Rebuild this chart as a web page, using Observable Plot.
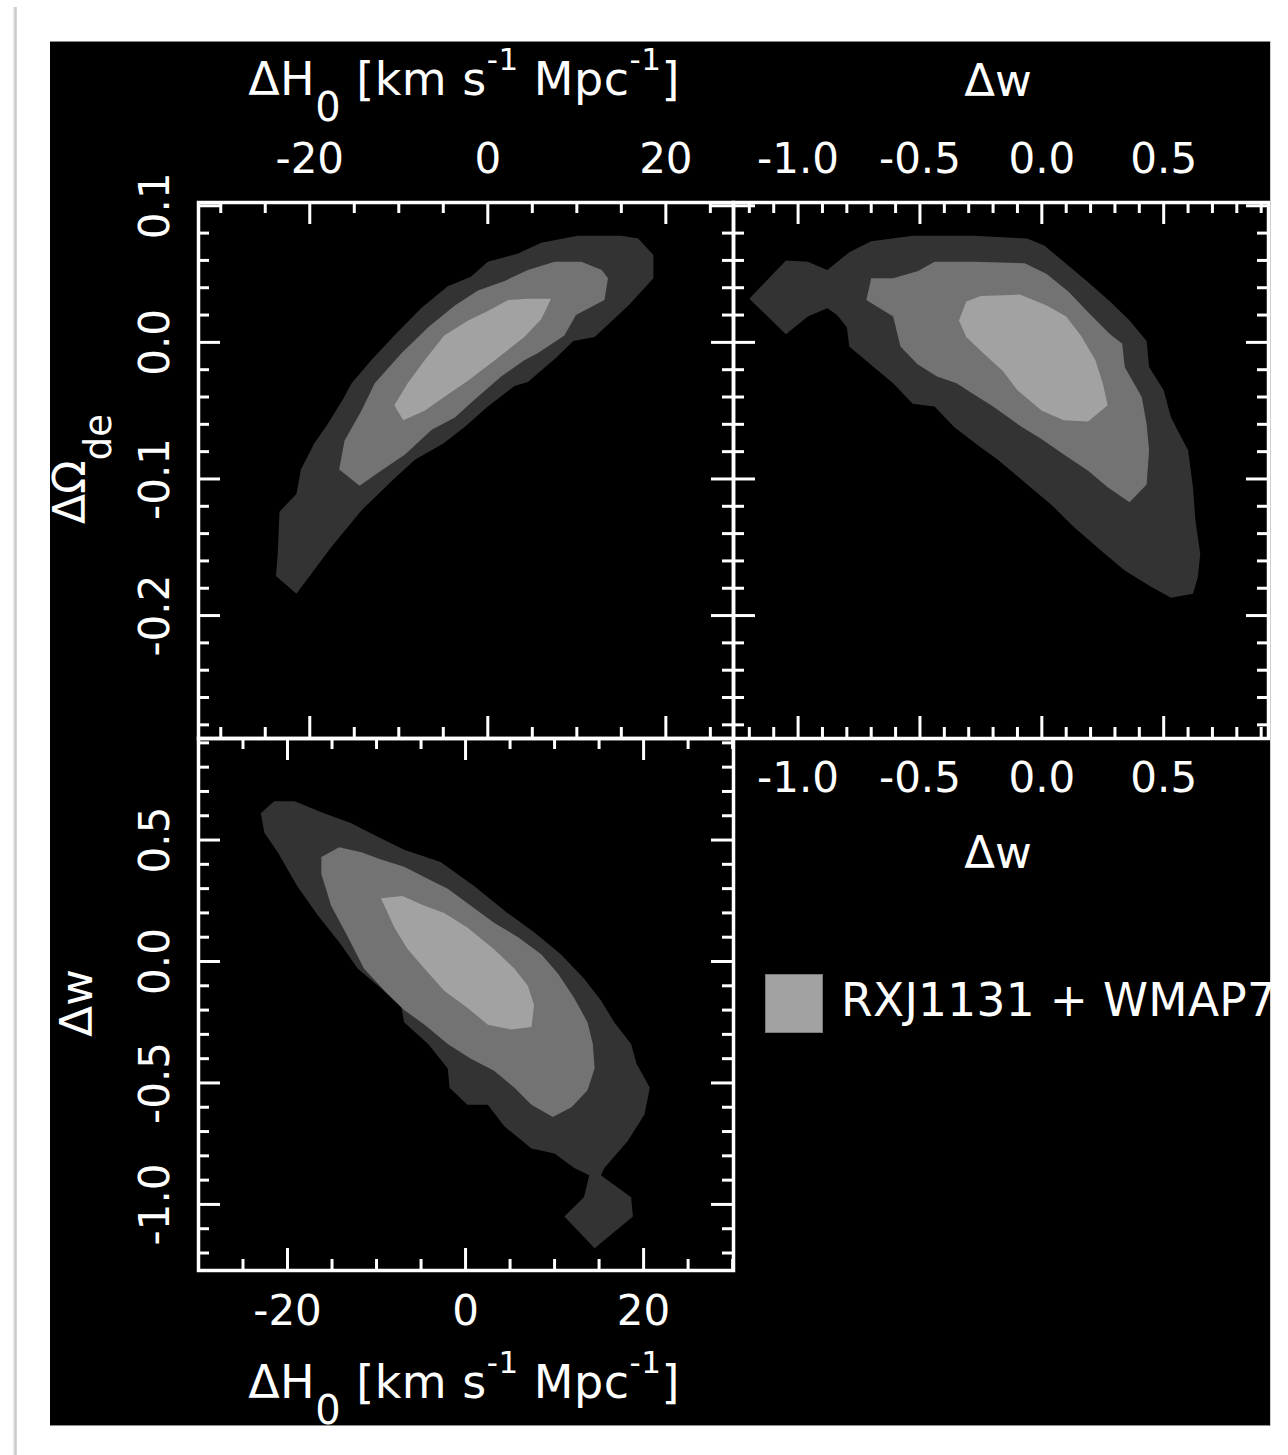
<!DOCTYPE html>
<html><head><meta charset="utf-8">
<script src="https://cdn.jsdelivr.net/npm/d3@7"></script>
<script src="https://cdn.jsdelivr.net/npm/@observablehq/plot@0.6"></script>
<style>
html,body{margin:0;padding:0;background:#fff;}
#page{position:relative;width:1288px;height:1455px;overflow:hidden;background:#fff;font-family:"DejaVu Sans",sans-serif;color:#fff;}
#shadow{position:absolute;left:13px;top:7px;width:4px;height:1448px;background:linear-gradient(to right,#f2f2f2,#c4c4c4 70%,#e4e4e4);}
#panel{position:absolute;left:50px;top:41px;width:1220px;height:1385px;background:#000;}
.edge{position:absolute;background:#8a8a8a;}
.box{position:absolute;}
.t{position:absolute;white-space:nowrap;line-height:100px;transform-origin:0 0;}
.sub,.sup{position:relative;line-height:1;}
#legend-swatch{position:absolute;box-sizing:border-box;border:1px solid #7a7a7a;background:#a2a2a2;}
#legend-text{position:absolute;white-space:nowrap;line-height:100px;}
</style></head>
<body>
<div id="page">
  <div id="shadow"></div>
  <div id="panel"></div>
  <div class="edge" style="left:50px;top:41px;width:1220px;height:1px;"></div>
  <div class="edge" style="left:50px;top:1425px;width:1220px;height:1px;"></div>
  <div class="edge" style="left:1270px;top:41px;width:1px;height:1385px;background:#cfcfcf;"></div>
</div>
<script>
// ---------------- data ----------------
// Top-left panel: ΔH0 (x) vs ΔΩde (y)
const tlOuter = [[16.9,0.076],[18.6,0.064],[18.6,0.047],[15.8,0.027],[12.0,0.004],[9.6,0.001],[7.7,-0.011],[4.5,-0.029],[3.0,-0.032],[0.0,-0.047],[-2.6,-0.062],[-5.0,-0.074],[-8.2,-0.086],[-10.7,-0.101],[-14.2,-0.123],[-17.6,-0.150],[-21.5,-0.184],[-23.8,-0.171],[-23.6,-0.155],[-23.4,-0.124],[-21.5,-0.111],[-21.0,-0.093],[-19.5,-0.074],[-18.0,-0.060],[-16.3,-0.042],[-15.3,-0.030],[-13.1,-0.013],[-10.5,0.005],[-7.5,0.025],[-4.5,0.041],[-1.9,0.048],[0.0,0.059],[3.4,0.065],[6.0,0.073],[10.1,0.078],[15.0,0.078]];
const tlMid = [[13.5,0.047],[13.1,0.031],[9.9,0.020],[8.6,0.005],[5.6,-0.008],[4.1,-0.013],[1.5,-0.025],[-1.5,-0.042],[-3.7,-0.055],[-6.3,-0.064],[-9.3,-0.082],[-12.0,-0.094],[-14.4,-0.105],[-16.7,-0.093],[-16.1,-0.072],[-14.2,-0.050],[-12.7,-0.030],[-9.7,-0.008],[-6.7,0.011],[-3.7,0.027],[-1.1,0.038],[1.9,0.045],[4.5,0.053],[7.5,0.059],[10.5,0.059],[12.8,0.053]];
const tlInner = [[7.1,0.032],[6.0,0.017],[4.1,0.004],[0.8,-0.013],[-2.2,-0.028],[-4.9,-0.040],[-7.1,-0.050],[-9.5,-0.057],[-10.5,-0.046],[-9.0,-0.030],[-7.1,-0.013],[-4.9,0.005],[-2.2,0.016],[0.0,0.023],[2.3,0.031],[4.5,0.032]];

// Top-right panel: Δw (x) vs ΔΩde (y)
const trOuter = [[-1.20,0.032],[-1.05,0.060],[-0.96,0.059],[-0.88,0.053],[-0.79,0.066],[-0.70,0.074],[-0.53,0.078],[-0.28,0.078],[-0.06,0.076],[0.01,0.071],[0.09,0.059],[0.19,0.044],[0.28,0.030],[0.36,0.016],[0.43,0.001],[0.44,-0.018],[0.50,-0.035],[0.53,-0.055],[0.60,-0.079],[0.62,-0.106],[0.63,-0.130],[0.65,-0.155],[0.64,-0.172],[0.62,-0.184],[0.53,-0.187],[0.45,-0.179],[0.34,-0.167],[0.24,-0.152],[0.13,-0.135],[0.04,-0.119],[-0.06,-0.104],[-0.18,-0.086],[-0.25,-0.077],[-0.36,-0.062],[-0.44,-0.047],[-0.53,-0.045],[-0.61,-0.030],[-0.69,-0.018],[-0.79,-0.003],[-0.80,0.011],[-0.84,0.020],[-0.88,0.025],[-0.96,0.019],[-1.05,0.006]];
const trMid = [[-0.70,0.047],[-0.61,0.047],[-0.51,0.052],[-0.44,0.059],[-0.28,0.059],[-0.07,0.058],[0.02,0.050],[0.11,0.037],[0.19,0.022],[0.28,0.006],[0.33,-0.001],[0.34,-0.018],[0.41,-0.040],[0.43,-0.060],[0.44,-0.079],[0.43,-0.104],[0.36,-0.117],[0.27,-0.106],[0.19,-0.094],[0.09,-0.082],[0.00,-0.071],[-0.09,-0.061],[-0.20,-0.047],[-0.28,-0.038],[-0.35,-0.030],[-0.43,-0.025],[-0.51,-0.016],[-0.58,-0.003],[-0.61,0.019],[-0.72,0.031]];
const trInner = [[-0.31,0.030],[-0.25,0.034],[-0.09,0.035],[0.02,0.027],[0.10,0.019],[0.16,0.005],[0.22,-0.013],[0.25,-0.030],[0.27,-0.046],[0.19,-0.058],[0.09,-0.057],[0.00,-0.050],[-0.10,-0.035],[-0.16,-0.021],[-0.24,-0.008],[-0.31,0.004],[-0.34,0.016]];

// Bottom-left panel: ΔH0 (x) vs Δw (y)
const blOuter = [[-21.5,0.66],[-19.2,0.66],[-15.9,0.61],[-12.9,0.57],[-10.2,0.52],[-6.9,0.46],[-2.8,0.41],[1.0,0.31],[4.7,0.20],[7.7,0.12],[10.7,0.03],[13.3,-0.07],[15.2,-0.16],[16.7,-0.25],[18.6,-0.34],[19.2,-0.42],[20.7,-0.52],[20.1,-0.63],[18.2,-0.74],[15.6,-0.85],[15.2,-0.88],[18.6,-0.97],[18.8,-1.05],[14.5,-1.18],[11.1,-1.05],[13.3,-0.97],[13.9,-0.88],[12.2,-0.85],[10.0,-0.79],[7.4,-0.77],[4.4,-0.68],[2.5,-0.59],[0.2,-0.59],[-1.8,-0.52],[-2.0,-0.44],[-4.2,-0.34],[-6.9,-0.25],[-7.2,-0.19],[-9.5,-0.11],[-12.1,-0.03],[-14.0,0.07],[-16.6,0.19],[-18.9,0.31],[-21.1,0.45],[-22.6,0.53],[-23.0,0.61]];
const blMid = [[-16.2,0.43],[-14.2,0.47],[-11.7,0.45],[-9.5,0.42],[-6.9,0.39],[-4.2,0.34],[-2.0,0.30],[0.6,0.23],[3.2,0.16],[5.9,0.10],[8.5,0.03],[10.4,-0.05],[12.2,-0.15],[13.7,-0.25],[14.3,-0.34],[14.5,-0.44],[13.7,-0.53],[11.9,-0.60],[9.8,-0.64],[7.4,-0.59],[5.5,-0.52],[3.2,-0.45],[0.6,-0.40],[-2.0,-0.34],[-4.6,-0.26],[-6.9,-0.20],[-9.1,-0.12],[-11.4,-0.03],[-13.2,0.10],[-15.1,0.23],[-16.2,0.36]];
const blInner = [[-9.5,0.26],[-7.1,0.27],[-4.6,0.23],[-2.4,0.20],[0.2,0.14],[3.2,0.05],[5.5,-0.03],[7.0,-0.10],[7.7,-0.18],[7.4,-0.27],[5.1,-0.28],[2.5,-0.26],[0.2,-0.19],[-2.4,-0.12],[-4.6,-0.03],[-6.5,0.05],[-8.0,0.14]];

// axis ticks
const h0Major = [-20, 0, 20];
const h0Minor = [-30, -25, -15, -10, -5, 5, 10, 15, 25, 30];
const odeMajor = [0.1, 0.0, -0.1, -0.2];
const odeMinor = [0.08, 0.06, 0.04, 0.02, -0.02, -0.04, -0.06, -0.08, -0.12, -0.14, -0.16, -0.18, -0.22, -0.24, -0.26, -0.28];
const wMajor = [-1.0, -0.5, 0.0, 0.5];
const wMinor = [-1.2, -1.1, -0.9, -0.8, -0.7, -0.6, -0.4, -0.3, -0.2, -0.1, 0.1, 0.2, 0.3, 0.4, 0.6, 0.7, 0.8, 0.9];

// axis domains
const h0DomainTop = [-32.5, 27.6];
const h0DomainBottom = [-30, 30.1];
const odeDomain = [-0.29, 0.1024];
const wDomainX = [-1.265, 0.93];
const wDomainY = [-1.272, 0.918];

const legendLabel = "RXJ1131 + WMAP7";

// ---------------- styles ----------------
const C_OUT = "#333333", C_MID = "#737373", C_IN = "#a2a2a2";
const MAJ = 22, MIN = 11, TW = 3;
const FONT = "DejaVu Sans";
const OX = 50, OY = 41;
const LH = 100;
const pageEl = document.getElementById("page");
const panelEl = document.getElementById("panel");
const fmtInt = d => String(d);
const fmt1 = d => d.toFixed(1);
const baseline = fs => (LH - 1.164 * fs) / 2 + 0.928 * fs;

function makePanel({xDomain, yDomain, xMajor, xMinor, yMajor, yMinor, layers, frame, m, axes}) {
  const [x0, y0, x1, y1] = frame;
  const W = x1 - x0, H = y1 - y0;
  const inX = v => v >= xDomain[0] - 1e-9 && v <= xDomain[1] + 1e-9;
  const inY = v => v >= yDomain[0] - 1e-9 && v <= yDomain[1] + 1e-9;
  const marks = [];
  for (const [data, color] of layers) {
    marks.push(Plot.line(data, {x: d => d[0], y: d => d[1], fill: color, stroke: "none", curve: "linear-closed"}));
  }
  for (const [vals, len] of [[xMajor, MAJ], [xMinor, MIN]]) {
    const v = vals.filter(inX);
    marks.push(Plot.tickX(v, {x: d => d, stroke: "#fff", strokeWidth: TW, insetBottom: H - len}));
    marks.push(Plot.tickX(v, {x: d => d, stroke: "#fff", strokeWidth: TW, insetTop: H - len}));
  }
  for (const [vals, len] of [[yMajor, MAJ], [yMinor, MIN]]) {
    const v = vals.filter(inY);
    marks.push(Plot.tickY(v, {y: d => d, stroke: "#fff", strokeWidth: TW, insetRight: W - len}));
    marks.push(Plot.tickY(v, {y: d => d, stroke: "#fff", strokeWidth: TW, insetLeft: W - len}));
  }
  marks.push(Plot.frame({stroke: "#fff", strokeWidth: 3.5}));
  for (const a of axes) marks.push(a);
  const svg = Plot.plot({
    width: m.l + W + m.r, height: m.t + H + m.b,
    marginLeft: m.l, marginRight: m.r, marginTop: m.t, marginBottom: m.b,
    x: {domain: xDomain, axis: null}, y: {domain: yDomain, axis: null},
    style: {background: "transparent", color: "#fff", overflow: "visible", fontFamily: FONT, maxWidth: "none"},
    marks
  });
  const box = document.createElement("div");
  box.className = "box";
  box.style.left = (x0 - m.l - OX) + "px";
  box.style.top = (y0 - m.t - OY) + "px";
  box.appendChild(svg);
  panelEl.appendChild(box);
}

const axisText = {tickSize: 0, fontSize: 42, fontFamily: FONT, label: null};

// Top-left
makePanel({
  xDomain: h0DomainTop, yDomain: odeDomain,
  xMajor: h0Major, xMinor: h0Minor, yMajor: odeMajor, yMinor: odeMinor,
  layers: [[tlOuter, C_OUT], [tlMid, C_MID], [tlInner, C_IN]],
  frame: [198, 202, 733, 738], m: {t: 80, r: 10, b: 10, l: 120},
  axes: [
    Plot.axisX(h0Major, {...axisText, anchor: "top", tickPadding: 30, tickFormat: fmtInt}),
    Plot.axisY(odeMajor, {...axisText, anchor: "left", tickRotate: -90, tickPadding: 30, tickFormat: fmt1})
  ]
});

// Top-right
makePanel({
  xDomain: wDomainX, yDomain: odeDomain,
  xMajor: wMajor, xMinor: wMinor, yMajor: odeMajor, yMinor: odeMinor,
  layers: [[trOuter, C_OUT], [trMid, C_MID], [trInner, C_IN]],
  frame: [733, 202, 1268, 738], m: {t: 80, r: 10, b: 80, l: 10},
  axes: [
    Plot.axisX(wMajor, {...axisText, anchor: "top", tickPadding: 30, tickFormat: fmt1}),
    Plot.axisX(wMajor, {...axisText, anchor: "bottom", tickPadding: 24, tickFormat: fmt1})
  ]
});

// Bottom-left
makePanel({
  xDomain: h0DomainBottom, yDomain: wDomainY,
  xMajor: h0Major, xMinor: h0Minor, yMajor: wMajor, yMinor: wMinor,
  layers: [[blOuter, C_OUT], [blMid, C_MID], [blInner, C_IN]],
  frame: [198, 738, 733, 1270], m: {t: 10, r: 10, b: 80, l: 120},
  axes: [
    Plot.axisX(h0Major, {...axisText, anchor: "bottom", tickPadding: 25, tickFormat: fmtInt}),
    Plot.axisY(wMajor, {...axisText, anchor: "left", tickRotate: -90, tickPadding: 30, tickFormat: fmt1})
  ]
});

// ---------------- titles (page coordinates) ----------------
function title(rotated, x, y, fs, html, spacing) {
  const t = document.createElement("div");
  t.className = "t";
  t.style.fontSize = fs + "px";
  if (spacing) t.style.letterSpacing = spacing + "px";
  t.style.left = x + "px";
  t.style.top = y + "px";
  const b = baseline(fs).toFixed(2);
  t.style.transform = (rotated ? "rotate(-90deg) " : "") + `translate(-50%, -${b}px)`;
  t.innerHTML = html;
  pageEl.appendChild(t);
}
const H0_TITLE = 'ΔH<span class="sub" style="font-size:40px;top:26px">0</span> [km s<span class="sup" style="font-size:31px;top:-25px">-1</span> Mpc<span class="sup" style="font-size:31px;top:-25px">-1</span>]';
const ODE_TITLE = 'ΔΩ<span class="sub" style="font-size:37px;top:26px">de</span>';
title(false, 464, 95, 46, H0_TITLE, 0.5);
title(false, 998, 97, 45, "Δw");
title(false, 998, 869, 45, "Δw");
title(false, 464, 1398, 46, H0_TITLE, 0.5);
title(true, 85, 469, 44, ODE_TITLE);
title(true, 93, 1003, 45, "Δw");

// ---------------- legend ----------------
const sw = document.createElement("div");
sw.id = "legend-swatch";
sw.style.left = "765px"; sw.style.top = "974px";
sw.style.width = "58px"; sw.style.height = "59px";
pageEl.appendChild(sw);
const lt = document.createElement("div");
lt.id = "legend-text";
lt.textContent = legendLabel;
lt.style.fontSize = "45.5px";
lt.style.letterSpacing = "0.3px";
lt.style.left = "841px";
lt.style.top = (1017 - baseline(45.5)) + "px";
pageEl.appendChild(lt);
</script>
</body></html>
